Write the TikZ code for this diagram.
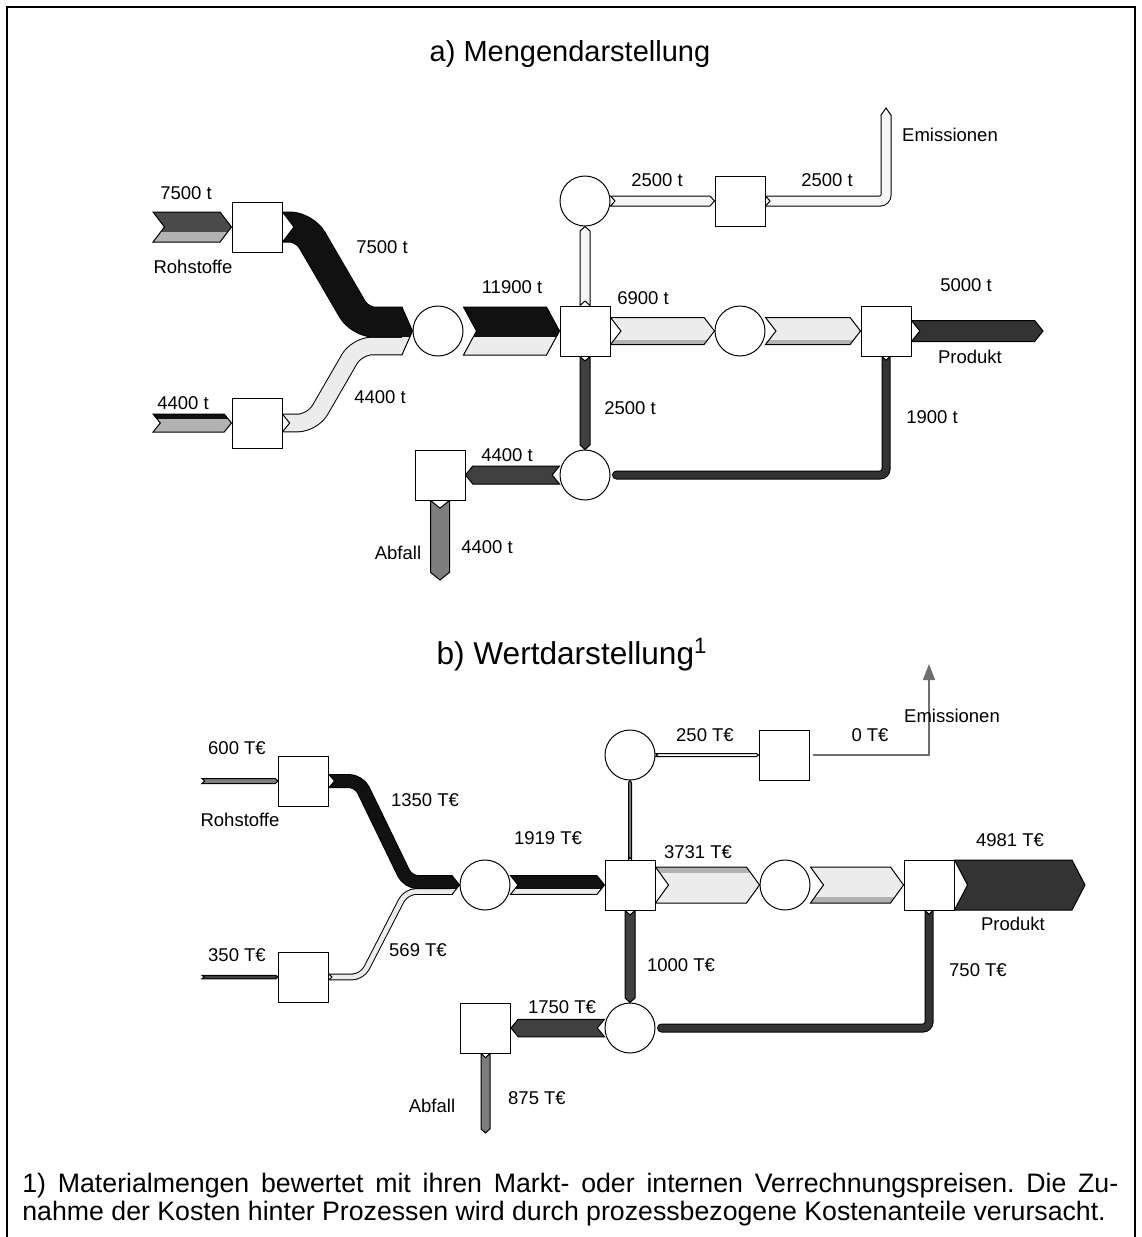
\documentclass[tikz,border=0pt]{standalone}
\usepackage{fontspec}
\setmainfont{Liberation Sans}
\usetikzlibrary{arrows.meta,calc}
\pgfdeclarelayer{flows}
\pgfsetlayers{flows,main}
\definecolor{flowblack}{RGB}{17,17,17}
\definecolor{flowdark}{RGB}{64,64,64}
\definecolor{flowprod}{RGB}{51,51,51}
\definecolor{flowin}{RGB}{74,74,74}
\definecolor{flowgray}{RGB}{125,125,125}
\definecolor{flowmid}{RGB}{178,178,178}
\definecolor{flowlight}{RGB}{236,236,236}
\definecolor{flowpale}{RGB}{246,246,246}
\definecolor{emigray}{RGB}{110,110,110}

\tikzset{
  procbox/.style={draw,fill=white,line width=0.5pt,minimum size=25pt,inner sep=0pt},
  knot/.style={circle,draw,fill=white,line width=0.5pt,minimum size=25pt,inner sep=0pt},
  lbl/.style={font=\fontsize{9.25}{11}\selectfont,inner sep=0pt},
  heading/.style={font=\fontsize{14.5}{17}\selectfont,inner sep=0pt,anchor=base},
  note/.style={font=\fontsize{13.35}{14}\selectfont\frenchspacing,inner sep=0pt,anchor=base west},
  flowline/.style={draw=black,line width=0.5pt},
  emiline/.style={draw=emigray,line width=0.8pt,-{Triangle[length=8pt,width=6pt]}},
}

% straight flow: from, to, width (px), colour, stripe colour, stripe start, stripe end (px from left side)
\newcommand{\flowarrow}[7]{%
  \path (#1); \pgfgetlastxy{\fax}{\fay}%
  \path (#2); \pgfgetlastxy{\fbx}{\fby}%
  \pgfmathsetmacro{\flen}{veclen((\fbx)-(\fax),(\fby)-(\fay))}%
  \pgfmathsetmacro{\fang}{atan2((\fby)-(\fay),(\fbx)-(\fax))}%
  \pgfmathsetmacro{\fh}{#3/4}%
  \pgfmathsetmacro{\fd}{min(6.5,0.7*\fh+0.5)}%
  \begin{scope}[shift={(\fax,\fay)},rotate=\fang,x=1pt,y=1pt]
    \def\chevron{(0,\fh) -- (\flen-\fd,\fh) -- (\flen,0) -- (\flen-\fd,-\fh) -- (0,-\fh) -- (\fd,0) -- cycle}
    \fill[#4] \chevron;
    \begin{scope}
      \clip \chevron;
      \fill[#5] (0,{\fh-#6/2}) rectangle (\flen,{\fh-#7/2});
    \end{scope}
    \draw[flowline] \chevron;
  \end{scope}}

% bent flow: [options] width (px), colour, path
\newcommand{\flowband}[4][]{%
  \draw[line width=#2*0.5pt+0.5pt,#1] #4;
  \draw[line width=#2*0.5pt-0.5pt,#3,#1] #4;}

% notch at the tail of a bent flow: at, direction, width (px)
\newcommand{\flownotch}[3]{%
  \begin{scope}[shift={(#1)},rotate=#2,x=1pt,y=1pt]
    \pgfmathsetmacro{\nh}{#3/4}
    \pgfmathsetmacro{\nd}{min(6.5,0.7*\nh+0.5)}
    \fill[white] (0,\nh) -- (\nd,0) -- (0,-\nh) -- cycle;
    \draw[flowline] (0,\nh) -- (\nd,0) -- (0,-\nh);
  \end{scope}}

\begin{document}
\begin{tikzpicture}[x=0.5pt,y=-0.5pt]
  \useasboundingbox (0,0) rectangle (1141,1237);
  \draw[line width=0.75pt] (7,1237) -- (7,7) -- (1135,7) -- (1135,1237);

  % a) Mengendarstellung
  \node[heading] (aTitle) at (570,61) {a) Mengendarstellung};

  \node[procbox] (aRoh1) at (257,227) {};
  \node[procbox] (aRoh2) at (257,423) {};
  \node[knot] (aMix) at (438,331) {};
  \node[procbox] (aSplit) at (585,331) {};
  \node[knot] (aEmiKnot) at (585,201) {};
  \node[procbox] (aEmiBox) at (740,201) {};
  \node[knot] (aMidKnot) at (740,331) {};
  \node[procbox] (aEnd) at (886,331) {};
  \node[knot] (aWasteKnot) at (585,475) {};
  \node[procbox] (aWasteBox) at (440,475) {};
  \coordinate (aIn1) at (153,227);
  \coordinate (aIn2) at (153,423);
  \coordinate (aOut) at (1043,331);
  \coordinate (aDrop) at (440,580);
  \coordinate (aEmiEnd) at (886,115);

  \begin{pgfonlayer}{flows}
    \flowarrow{aIn1}{aRoh1.west}{30}{flowin}{flowmid}{20}{30}
    \flowarrow{aIn2}{aRoh2.west}{18}{flowmid}{flowblack}{0}{5}
    \flowband[rounded corners=7.5pt]{17.6}{flowlight}{(aRoh2.east) -- ++(30,0) -- (357,346) -- (402.5,346)}
    \flowband[rounded corners=7.5pt]{30}{flowblack}{(aRoh1.east) -- ++(22,0) -- (360,322.2) -- (402.5,322.2)}
    \flownotch{aRoh1.east}{0}{30}
    \flownotch{aRoh2.east}{0}{17.6}
    \fill[flowlight] (402,307.2) -- (aMix.west) -- (402,354.8) -- cycle;
    \begin{scope}
      \clip (402,307.2) -- (aMix.west) -- (402,354.8) -- cycle;
      \fill[flowblack] (400,300) rectangle (420,337.2);
    \end{scope}
    \draw[flowline] (402,307.2) -- (aMix.west) -- (402,354.8);
    \flowarrow{aMix.east}{aSplit.west}{48}{flowlight}{flowblack}{0}{30}
    \flowarrow{aSplit.north}{aEmiKnot.south}{10}{flowpale}{flowpale}{0}{0}
    \flowarrow{aEmiKnot.east}{aEmiBox.west}{10}{flowpale}{flowpale}{0}{0}
    \flowband[rounded corners=3pt]{10}{flowpale}{(aEmiBox.east) -| (aEmiEnd)}
    \flownotch{aEmiBox.east}{0}{10}
    \fill[flowpale] (880.75,115.5) -- (886,108) -- (891.25,115.5) -- cycle;
    \draw[flowline] (880.75,115.5) -- (886,108) -- (891.25,115.5);
    \flowarrow{aSplit.east}{aMidKnot.west}{27}{flowlight}{flowmid}{22}{27}
    \flowarrow{aMidKnot.east}{aEnd.west}{27}{flowlight}{flowmid}{22}{27}
    \flowarrow{aEnd.east}{aOut}{21}{flowprod}{flowprod}{0}{0}
    \flowarrow{aSplit.south}{aWasteKnot.north}{10}{flowdark}{flowdark}{0}{0}
    \flowband[rounded corners=3pt,line cap=round]{8}{flowprod}{(aEnd.south) |- ($(aWasteKnot.east)+(6,0)$)}
    \flownotch{aEnd.south}{-90}{8}
    \flowarrow{aWasteKnot.west}{aWasteBox.east}{18}{flowdark}{flowdark}{0}{0}
    \flowarrow{aWasteBox.south}{aDrop}{19}{flowgray}{flowgray}{0}{0}
  \end{pgfonlayer}

  \node[lbl] (aQ1) at (186,193) {7500 t};
  \node[lbl] (aRohTxt) at (193,267) {Rohstoffe};
  \node[lbl] (aQ2) at (382,247) {7500 t};
  \node[lbl] (aQ3) at (183,403) {4400 t};
  \node[lbl] (aQ4) at (380,397) {4400 t};
  \node[lbl] (aQ5) at (512,287) {11900 t};
  \node[lbl] (aQ6) at (657,180) {2500 t};
  \node[lbl] (aQ7) at (827,180) {2500 t};
  \node[lbl] (aEmiTxt) at (950,135) {Emissionen};
  \node[lbl] (aQ8) at (643,298) {6900 t};
  \node[lbl] (aQ9) at (966,285) {5000 t};
  \node[lbl] (aProdTxt) at (970,357) {Produkt};
  \node[lbl] (aQ10) at (630,408) {2500 t};
  \node[lbl] (aQ11) at (932,417) {1900 t};
  \node[lbl] (aQ12) at (507,455) {4400 t};
  \node[lbl] (aAbfTxt) at (398,553) {Abfall};
  \node[lbl] (aQ13) at (487,547) {4400 t};

  % b) Wertdarstellung
  \node[heading,font=\fontsize{15.8}{18}\selectfont] (bTitle) at (572,664) {b) Wertdarstellung\textsuperscript{1}};

  \node[procbox] (bRoh1) at (303.5,781) {};
  \node[procbox] (bRoh2) at (303.5,977) {};
  \node[knot] (bMix) at (485,885) {};
  \node[procbox] (bSplit) at (630,885) {};
  \node[knot] (bEmiKnot) at (630,755) {};
  \node[procbox] (bEmiBox) at (784,755) {};
  \node[knot] (bMidKnot) at (785,885) {};
  \node[procbox] (bEnd) at (929,885) {};
  \node[knot] (bWasteKnot) at (630,1028) {};
  \node[procbox] (bWasteBox) at (485.5,1028) {};
  \coordinate (bIn1) at (202,781);
  \coordinate (bIn2) at (202,977);
  \coordinate (bOut) at (1085,885);
  \coordinate (bDrop) at (485.5,1133);
  \coordinate (bEmiTop) at (929,664);

  \begin{pgfonlayer}{flows}
    \flowarrow{bIn1}{bRoh1.west}{5}{flowgray}{flowgray}{0}{0}
    \flowarrow{bIn2}{bRoh2.west}{3.5}{flowdark}{flowdark}{0}{0}
    \flowband[rounded corners=5pt]{5.7}{flowlight}{(bRoh2.east) -- ++(33,0) -- (406,891.5) -- (452.5,891.5)}
    \flowband[rounded corners=5pt]{13}{flowblack}{(bRoh1.east) -- ++(30,0) -- (408,882.15) -- (452.5,882.15)}
    \flownotch{bRoh1.east}{0}{13}
    \flownotch{bRoh2.east}{0}{5.7}
    \fill[flowlight] (452,875.65) -- (bMix.west) -- (452,894.35) -- cycle;
    \begin{scope}
      \clip (452,875.65) -- (bMix.west) -- (452,894.35) -- cycle;
      \fill[flowblack] (450,870) rectangle (465,888.65);
    \end{scope}
    \draw[flowline] (452,875.65) -- (bMix.west) -- (452,894.35);
    \flowarrow{bMix.east}{bSplit.west}{18.7}{flowlight}{flowblack}{0}{13}
    \flowarrow{bSplit.north}{bEmiKnot.south}{3}{flowgray}{flowgray}{0}{0}
    \flowarrow{bEmiKnot.east}{bEmiBox.west}{3}{flowpale}{flowpale}{0}{0}
    \draw[emiline] ($(bEmiBox.east)+(3,0)$) -| (bEmiTop);
    \flowarrow{bSplit.east}{bMidKnot.west}{36}{flowlight}{flowmid}{0}{6}
    \flowarrow{bMidKnot.east}{bEnd.west}{36}{flowlight}{flowmid}{30}{36}
    \flowarrow{bEnd.east}{bOut}{50}{flowprod}{flowprod}{0}{0}
    \flowarrow{bSplit.south}{bWasteKnot.north}{10}{flowdark}{flowdark}{0}{0}
    \flowband[rounded corners=3pt,line cap=round]{8}{flowprod}{(bEnd.south) |- ($(bWasteKnot.east)+(6,0)$)}
    \flownotch{bEnd.south}{-90}{8}
    \flowarrow{bWasteKnot.west}{bWasteBox.east}{17.5}{flowdark}{flowdark}{0}{0}
    \flowarrow{bWasteBox.south}{bDrop}{9}{flowgray}{flowgray}{0}{0}
  \end{pgfonlayer}

  \node[lbl] (bQ1) at (237,748) {600 T€};
  \node[lbl] (bRohTxt) at (240,820) {Rohstoffe};
  \node[lbl] (bQ2) at (425,800) {1350 T€};
  \node[lbl] (bQ3) at (237,955) {350 T€};
  \node[lbl] (bQ4) at (418,950) {569 T€};
  \node[lbl] (bQ5) at (548,838) {1919 T€};
  \node[lbl] (bQ6) at (705,735) {250 T€};
  \node[lbl] (bQ7) at (870,735) {0 T€};
  \node[lbl] (bEmiTxt) at (952,716) {Emissionen};
  \node[lbl] (bQ8) at (698,852) {3731 T€};
  \node[lbl] (bQ9) at (1010,840) {4981 T€};
  \node[lbl] (bProdTxt) at (1013,924) {Produkt};
  \node[lbl] (bQ10) at (681,965) {1000 T€};
  \node[lbl] (bQ11) at (978,970) {750 T€};
  \node[lbl] (bQ12) at (562,1007) {1750 T€};
  \node[lbl] (bAbfTxt) at (432,1106) {Abfall};
  \node[lbl] (bQ13) at (537,1098) {875 T€};

  % footnote
  \node[note] (fn1) at (22,1192) {\makebox[548pt][s]{1) Materialmengen bewertet mit ihren Markt- oder internen Verrechnungspreisen. Die Zu-}};
  \node[note] (fn2) at (22,1220) {nahme der Kosten hinter Prozessen wird durch prozessbezogene Kostenanteile verursacht.};
\end{tikzpicture}
\end{document}
